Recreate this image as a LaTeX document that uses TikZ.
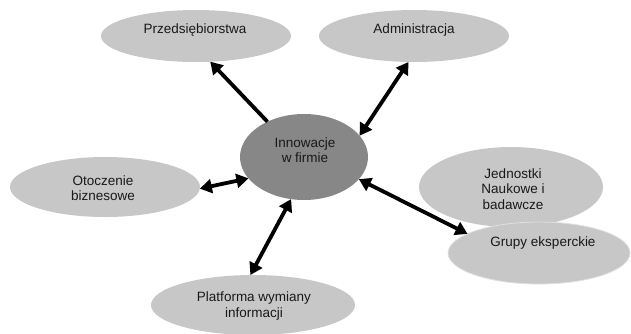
\documentclass[tikz,border=0pt]{standalone}
\usepackage{fontspec}
\setmainfont{Liberation Sans}
\usetikzlibrary{shapes.geometric,arrows.meta}
\begin{document}
\begin{tikzpicture}[x=1pt,y=-1pt,
  bub/.style={ellipse, fill=black!22, inner sep=0pt, outer sep=0pt},
  core/.style={ellipse, fill=black!47, inner sep=0pt, outer sep=0pt},
  lbl/.style={align=center, font=\fontsize{13.5}{15.5}\selectfont, text=black!90, inner sep=0pt},
  tipA/.tip={Triangle[length=12pt,width=14pt]},
  link/.style={line width=3.8pt, draw=black, tipA-tipA},
  onelink/.style={line width=3.8pt, draw=black, -tipA}]
\useasboundingbox (0,0) rectangle (631,333);
% ellipses
\node[bub, minimum width=190pt, minimum height=52pt] (P) at (196,36) {};
\node[bub, minimum width=190pt, minimum height=52pt] (A) at (414,36) {};
\node[bub, minimum width=190pt, minimum height=60pt] (O) at (105,187) {};
\node[bub, minimum width=184pt, minimum height=80pt] (J) at (511,187) {};
\node[bub, minimum width=182pt, minimum height=62pt, draw=black!12, line width=0.8pt] (G) at (539,253) {};
\node[bub, minimum width=204pt, minimum height=60pt] (L) at (253,305) {};
\node[core, minimum width=128pt, minimum height=86pt] (c) at (304,157) {};
% labels
\node[lbl] (Pt) at (195,30) {Przedsiębiorstwa};
\node[lbl] (At) at (414,30) {Administracja};
\node[lbl] (ct) at (305,150) {Innowacje\\w firmie};
\node[lbl] (Ot) at (103,188) {Otoczenie\\biznesowe};
\node[lbl] (Jt) at (513,189) {Jednostki\\Naukowe i\\badawcze};
\node[lbl] (Gt) at (543,243) {Grupy eksperckie};
\node[lbl] (Lt) at (254,306) {Platforma wymiany\\informacji};
% connectors
\draw[onelink] (c.136) -- (P.-61);
\draw[link] (c.21) -- (A.-102);
\draw[link] (c.201) -- (O.-1);
\draw[link] (c.253) -- (L.95);
\draw[link] (c.-22) -- (G.165);
\end{tikzpicture}
\end{document}
